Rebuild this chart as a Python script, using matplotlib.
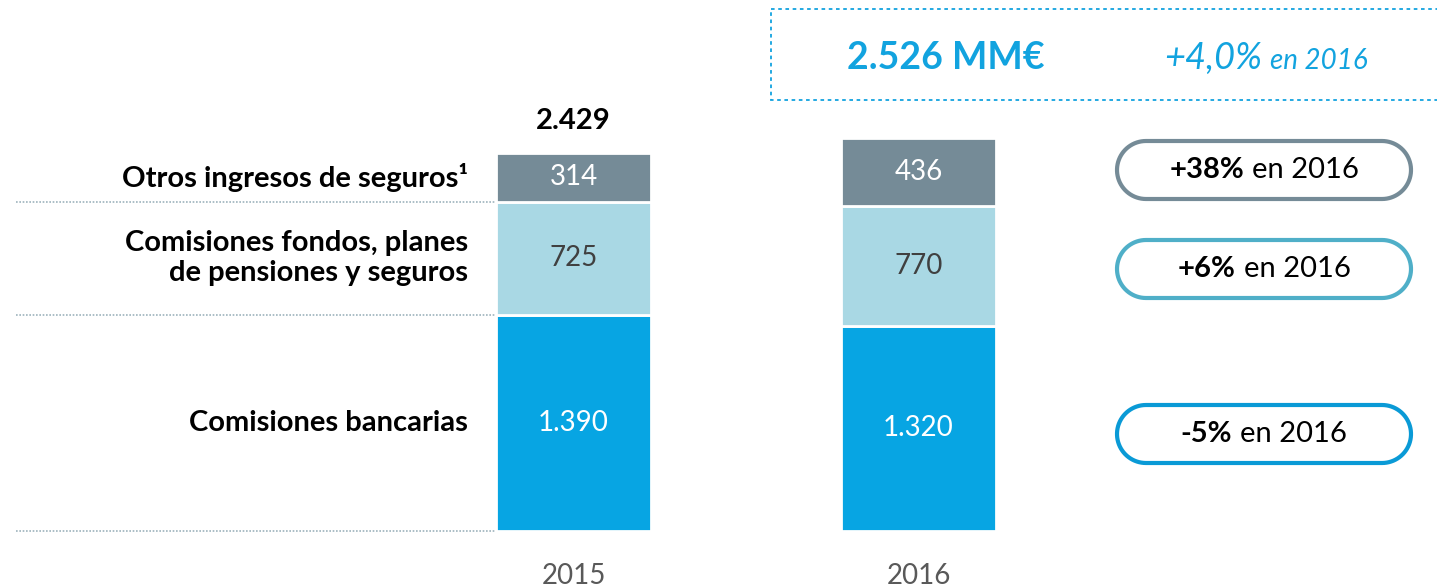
import matplotlib
matplotlib.use('Agg')
import numpy as np
import matplotlib.pyplot as plt
from matplotlib.patches import Polygon, Rectangle

# ---- data ----
years = ['2015', '2016']
bancarias = [1390, 1320]
fondos = [725, 770]
otros = [314, 436]
total_2015 = '2.429'
bancarias_lbl = ['1.390', '1.320']
segment_names = ['Otros ingresos de seguros¹',
                 'Comisiones fondos, planes\nde pensiones y seguros',
                 'Comisiones bancarias']
growth_bold = ['+38%', '+6%', '-5%']
growth_rest = 'en 2016'
headline = '2.526 MM€'
headline_pct = '+4,0%'

C_OTROS = '#758B97'
C_FONDOS = '#A9D8E4'
C_BANC = '#07A5E3'
C_HEAD = '#12A3DF'
EDGES = ['#758B97', '#4FAFC8', '#0A9AD6']

plt.rcParams['font.family'] = ['Lato', 'DejaVu Sans']

W, H = 1437, 587
fig = plt.figure(figsize=(W / 100, H / 100), dpi=100)
ax = fig.add_axes([0, 0, 1, 1])

# map: bar centres at px 573.5 / 918.5, baseline at px 531, 0.1556 px per unit
xs = 345.0
ys = 0.15562
ax.set_xlim(-573.5 / xs, (W - 573.5) / xs)
ax.set_ylim(-(H - 531) / ys, 531 / ys)
ax.axis('off')

# overlay in pixel coordinates for the annotation boxes
ov = fig.add_axes([0, 0, 1, 1], zorder=3)
ov.set_xlim(0, W)
ov.set_ylim(H, 0)
ov.axis('off')
ov.patch.set_alpha(0)

x = [0, 1]
bw = 155 / xs
kw = dict(width=bw, edgecolor='white', linewidth=2)
ax.bar(x, bancarias, color=C_BANC, **kw)
b2 = [b + f for b, f in zip(bancarias, fondos)]
ax.bar(x, fondos, bottom=bancarias, color=C_FONDOS, **kw)
ax.bar(x, otros, bottom=b2, color=C_OTROS, **kw)

for i in range(2):
    ax.text(x[i], bancarias[i] / 2, bancarias_lbl[i], ha='center', va='center',
            color='white', fontsize=20)
    ax.text(x[i], bancarias[i] + fondos[i] / 2, str(fondos[i]), ha='center', va='center',
            color='#404040', fontsize=20)
    ax.text(x[i], b2[i] + otros[i] / 2, str(otros[i]), ha='center', va='center',
            color='white', fontsize=20)
    ax.text(x[i], -290, years[i], ha='center', va='center', color='#595959', fontsize=20)

ax.text(x[0], b2[0] + otros[0] + 205, total_2015, ha='center', va='center',
        fontsize=21, fontweight='bold', color='black')

# dotted separators on the left
for yv in [0, bancarias[0], b2[0]]:
    ax.plot([-558 / xs, -bw / 2], [yv, yv], linestyle=(0, (1, 1)), color='#9DB3BC', lw=1.2)

# segment labels
label_y = [b2[0] + otros[0] / 2, bancarias[0] + fondos[0] / 2, bancarias[0] / 2]
for name, yv in zip(segment_names, label_y):
    ax.text(468 / xs - 573.5 / xs, yv, name, ha='right', va='center', fontsize=21,
            fontweight='bold', linespacing=1.2)

# dashed headline box
ov.add_patch(Rectangle((771, 9), 700, 91, fill=False, edgecolor=C_HEAD,
                       linestyle=(0, (2, 2)), lw=1.3))
ov.text(946, 58, headline, ha='center', va='center', fontsize=27,
        fontweight='bold', color=C_HEAD)
ov.text(1262, 58, headline_pct, ha='right', va='center', fontsize=26,
        style='italic', color=C_HEAD)
ov.text(1270, 61, 'en 2016', ha='left', va='center', fontsize=20,
        style='italic', color=C_HEAD)


def pill(xl, xr, yc, r):
    t = np.linspace(-np.pi / 2, np.pi / 2, 40)
    right = np.column_stack([xr - r + r * np.cos(t), yc + r * np.sin(t)])
    left = np.column_stack([xl + r - r * np.cos(t), yc - r * np.sin(t)])
    return np.vstack([right, left])


# growth pills
pill_y = [170, 269, 434]
renderer = fig.canvas.get_renderer()
for yc, bold, ec in zip(pill_y, growth_bold, EDGES):
    ov.add_patch(Polygon(pill(1117, 1411, yc, 29), closed=True,
                         facecolor='white', edgecolor=ec, lw=3))
    tb = ov.text(0, yc, bold, ha='left', va='center', fontsize=21,
                 fontweight='bold', color='black')
    tr = ov.text(0, yc, growth_rest, ha='left', va='center', fontsize=21, color='black')
    wb = tb.get_window_extent(renderer).width
    wr = tr.get_window_extent(renderer).width
    gap = 8
    x0 = 1264 - (wb + gap + wr) / 2
    tb.set_x(x0)
    tr.set_x(x0 + wb + gap)

fig.savefig('out.png', dpi=100)
